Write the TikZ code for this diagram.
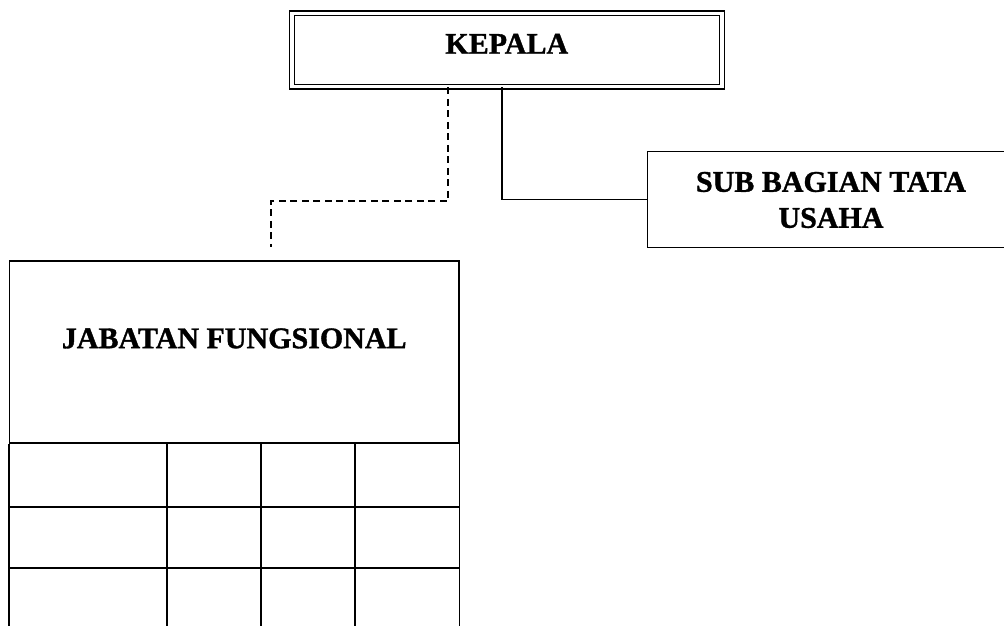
\documentclass[tikz,border=0pt]{standalone}
\usepackage{fontspec}
\setmainfont{Liberation Serif}[BoldFeatures={FakeBold=1.2}]
\usetikzlibrary{calc}
\begin{document}
\begin{tikzpicture}[x=1pt,y=-1pt,
  box/.style={draw, line width=1.2pt, inner sep=0pt, align=center,
    font=\fontsize{30}{36}\selectfont\bfseries},
  txt/.style={inner sep=0pt, align=center,
    font=\fontsize{30}{36}\selectfont\bfseries},
  dashline/.style={line width=1.3pt, dash pattern=on 7pt off 4.5pt},
  solidline/.style={line width=1.3pt},
  gridline/.style={line width=1.2pt}]
\useasboundingbox (0,0) rectangle (1004,626);
\fill[white] (0,0) rectangle (1004,626);
\clip (0,0) rectangle (1004,626);
% KEPALA (double frame)
\node[box, double, double distance=3.4pt, line width=1.3pt,
  minimum width=430pt, minimum height=73.5pt,
  text height=20pt, text depth=12.6pt] (kepala) at (506.8,50) {KEPALA};
% SUB BAGIAN TATA USAHA (its right side runs off the page)
\node[txt, minimum width=400pt, minimum height=95pt] (sub) at (848,199.5) {};
\draw[gridline] (sub.north east) -- (sub.north west) -- (sub.south west) -- (sub.south east);
\node[txt] (subtext) at (831,200) {SUB BAGIAN TATA\\USAHA};
% JABATAN FUNGSIONAL header cell
\node[box, minimum width=449.5pt, minimum height=182pt,
  text height=20pt, text depth=27.6pt] (jf) at (234.25,352) {JABATAN FUNGSIONAL};
% table grid below the header
\draw[gridline] (jf.south west) -- ++(0,200)
  (jf.south east) -- ++(0,200)
  (9.5,507) -- (459,507)
  (9.5,568) -- (459,568)
  (167,443) -- (167,640)
  (261,443) -- (261,640)
  (355,443) -- (355,640);
% connectors
\draw[dashline, shorten >=13pt] (kepala.south -| 448,0) |- (271,201) -- (jf.north -| 271,0);
\draw[solidline] (kepala.south -| 502,0) |- (sub.west);
\end{tikzpicture}
\end{document}
